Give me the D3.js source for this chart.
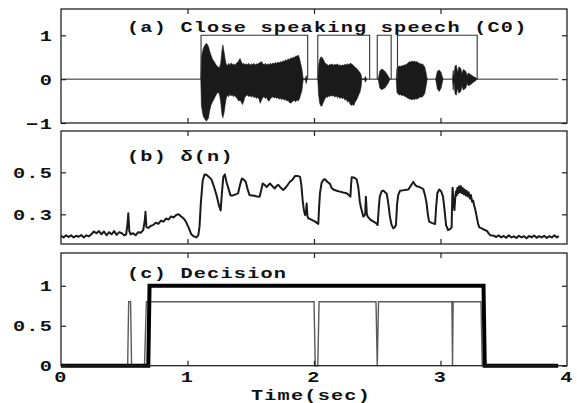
<!DOCTYPE html>
<html>
<head>
<meta charset="utf-8">
<script src="https://cdn.jsdelivr.net/npm/d3@7"></script>
<style>
  body { margin: 0; background: #fff; }
  svg { display: block; }
  .lbl { font-family: "Liberation Mono", "DejaVu Sans Mono", monospace; font-weight: bold; font-size: 15px; letter-spacing: 0.9px; fill: #111; }
</style>
</head>
<body>
<svg id="chart" width="577" height="403"></svg>
<script>
// x axis (seconds)
var xTicks = [0, 1, 2, 3, 4];

// panel (a): speech waveform envelope, rows are [time, upper, lower]
var wave1 = [[1.105,0,0],[1.110,0.50,-0.60],[1.118,0.62,-0.75],[1.125,0.70,-0.85],[1.135,0.76,-0.90],[1.150,0.82,-0.96],[1.158,0.78,-0.92],[1.165,0.75,-0.90],[1.175,0.64,-0.72],[1.185,0.55,-0.60],[1.197,0.46,-0.52],[1.210,0.40,-0.45],[1.225,0.33,-0.36],[1.240,0.28,-0.30],[1.252,0.26,-0.34],[1.262,0.35,-0.50],[1.272,0.65,-0.80],[1.280,0.78,-0.88],[1.290,0.60,-0.75],[1.298,0.45,-0.58],
  [1.305,0.35,-0.45],[1.315,0.30,-0.36],[1.325,0.36,-0.40],[1.335,0.32,-0.35],[1.345,0.37,-0.38],[1.355,0.33,-0.36],[1.365,0.35,-0.40],[1.375,0.31,-0.37],[1.385,0.36,-0.42],[1.395,0.38,-0.45],
  [1.405,0.42,-0.50],[1.415,0.47,-0.48],[1.425,0.40,-0.52],[1.435,0.34,-0.58],[1.445,0.36,-0.50],[1.455,0.32,-0.40],[1.465,0.35,-0.38],[1.475,0.33,-0.36],[1.485,0.36,-0.40],[1.495,0.31,-0.37],
  [1.505,0.35,-0.41],[1.515,0.33,-0.38],[1.525,0.36,-0.42],[1.535,0.32,-0.40],[1.545,0.35,-0.44],[1.555,0.34,-0.41],[1.565,0.37,-0.45],[1.575,0.38,-0.55],[1.585,0.40,-0.48],[1.595,0.35,-0.42],
  [1.605,0.33,-0.40],[1.615,0.36,-0.44],[1.625,0.32,-0.42],[1.635,0.35,-0.48],[1.645,0.33,-0.50],[1.655,0.36,-0.45],[1.665,0.34,-0.42],[1.675,0.37,-0.40],[1.685,0.35,-0.43],[1.695,0.38,-0.41],
  [1.705,0.36,-0.44],[1.715,0.39,-0.42],[1.725,0.37,-0.46],[1.735,0.40,-0.43],[1.745,0.38,-0.47],[1.755,0.42,-0.44],[1.765,0.40,-0.48],[1.775,0.44,-0.46],[1.785,0.42,-0.50],[1.795,0.46,-0.48],
  [1.805,0.45,-0.53],[1.815,0.48,-0.55],[1.825,0.47,-0.52],[1.835,0.50,-0.50],[1.845,0.49,-0.48],[1.855,0.53,-0.52],[1.865,0.52,-0.47],[1.875,0.55,-0.50],[1.885,0.48,-0.45],[1.895,0.35,-0.35],
  [1.905,0.22,-0.25],[1.915,0,0],[1.930,0,0],[1.938,0.08,-0.10],[1.946,0,0]];
var wave2 = [[2.030,0,0],[2.036,0.30,-0.35],[2.045,0.45,-0.55],[2.055,0.51,-0.62],[2.065,0.49,-0.60],[2.075,0.44,-0.52],[2.085,0.38,-0.46],[2.095,0.35,-0.40],[2.105,0.33,-0.42],[2.115,0.31,-0.38],[2.125,0.34,-0.40],[2.135,0.32,-0.36],[2.145,0.35,-0.39],[2.155,0.31,-0.37],[2.165,0.34,-0.41],[2.175,0.32,-0.38],[2.185,0.35,-0.42],[2.195,0.31,-0.40],[2.205,0.33,-0.44],[2.215,0.30,-0.41],[2.225,0.33,-0.45],[2.235,0.31,-0.42],[2.245,0.34,-0.48],[2.255,0.32,-0.46],[2.265,0.35,-0.52],[2.275,0.33,-0.50],[2.285,0.36,-0.56],[2.295,0.35,-0.60],[2.305,0.33,-0.58],[2.315,0.30,-0.60],[2.325,0.27,-0.52],[2.335,0.25,-0.48],[2.345,0.22,-0.42],[2.355,0.18,-0.35],[2.365,0.14,-0.28],[2.372,0.10,-0.18],[2.378,0,0],[2.400,0,0],[2.405,0.06,-0.07],[2.410,0.04,-0.05],[2.416,0,0]];
var wave3 = [[2.508,0,0],[2.520,0.18,-0.20],[2.535,0.23,-0.24],[2.548,0.21,-0.22],[2.560,0.18,-0.20],[2.585,0.08,-0.10],[2.600,0,0]];
var wave4 = [[2.650,0,0],[2.656,0.25,-0.30],[2.665,0.28,-0.34],[2.675,0.30,-0.36],[2.685,0.29,-0.35],[2.695,0.31,-0.38],[2.705,0.30,-0.36],[2.715,0.33,-0.39],[2.725,0.32,-0.40],[2.735,0.35,-0.42],[2.745,0.37,-0.44],[2.755,0.40,-0.45],[2.765,0.39,-0.46],[2.775,0.41,-0.47],[2.785,0.40,-0.45],[2.795,0.41,-0.47],[2.805,0.39,-0.44],[2.815,0.40,-0.46],[2.825,0.37,-0.43],[2.835,0.36,-0.42],[2.845,0.34,-0.40],[2.855,0.35,-0.41],[2.865,0.32,-0.37],[2.875,0.28,-0.33],[2.885,0.16,-0.18],[2.895,0,0]];
var wave5 = [[2.962,0,0],[2.975,0.18,-0.22],[2.990,0.21,-0.28],[3.005,0.15,-0.20],[3.020,0,0]];
var wave6 = [[3.095,0,0],[3.100,0.20,-0.25],[3.106,0.05,-0.05],[3.115,0.30,-0.34],[3.125,0.32,-0.36],[3.135,0.15,-0.20],[3.145,0.28,-0.32],[3.160,0.25,-0.28],[3.170,0.12,-0.15],[3.180,0.22,-0.25],[3.200,0.18,-0.20],[3.210,0.08,-0.10],[3.220,0.14,-0.15],[3.240,0.10,-0.12],[3.260,0.06,-0.07],[3.280,0.03,-0.03],[3.290,0,0]];
var zeroT = [0, 3.93];
var segStart = [1.107, 2.030, 2.500, 2.660];
var segEnd   = [1.950, 2.440, 2.610, 3.290];
var segLevel = 1;

// panel (b): delta(n)
var deltaT = [0.00, 0.02, 0.04, 0.06, 0.08, 0.10, 0.12, 0.14, 0.16, 0.18, 0.20, 0.22, 0.24, 0.26, 0.28, 0.30, 0.32, 0.34, 0.36, 0.38, 0.40, 0.42, 0.44, 0.46, 0.48, 0.50, 0.515, 0.525, 0.532, 0.54, 0.55, 0.57, 0.59, 0.61, 0.63, 0.65, 0.662, 0.668, 0.675, 0.69, 0.71, 0.73, 0.75, 0.77, 0.79, 0.81, 0.83, 0.85, 0.87, 0.89, 0.91, 0.93, 0.95, 0.97, 0.99, 1.01, 1.03, 1.05, 1.07, 1.085, 1.095, 1.105, 1.12, 1.135, 1.15, 1.17, 1.19, 1.21, 1.23, 1.25, 1.262, 1.272, 1.283, 1.295, 1.31, 1.325, 1.34, 1.36, 1.38, 1.40, 1.415, 1.43, 1.445, 1.46, 1.475, 1.49, 1.51, 1.53, 1.55, 1.57, 1.585, 1.594, 1.61, 1.626, 1.64, 1.652, 1.67, 1.69, 1.705, 1.718, 1.74, 1.757, 1.78, 1.81, 1.83, 1.85, 1.87, 1.89, 1.90, 1.91, 1.92, 1.929, 1.936, 1.942, 1.948, 1.955, 1.975, 1.994, 2.01, 2.025, 2.034, 2.04, 2.047, 2.06, 2.075, 2.087, 2.105, 2.126, 2.14, 2.153, 2.18, 2.205, 2.23, 2.258, 2.275, 2.288, 2.293, 2.298, 2.317, 2.337, 2.35, 2.362, 2.372, 2.39, 2.405, 2.41, 2.418, 2.425, 2.445, 2.47, 2.49, 2.503, 2.512, 2.52, 2.535, 2.548, 2.562, 2.575, 2.588, 2.60, 2.613, 2.627, 2.64, 2.648, 2.657, 2.666, 2.68, 2.70, 2.72, 2.746, 2.77, 2.785, 2.80, 2.812, 2.835, 2.864, 2.878, 2.89, 2.90, 2.91, 2.935, 2.957, 2.965, 2.975, 2.99, 3.005, 3.02, 3.032, 3.044, 3.06, 3.075, 3.088, 3.093, 3.096, 3.103, 3.11, 3.118, 3.123, 3.128, 3.133, 3.14, 3.146, 3.154, 3.16, 3.17, 3.176, 3.185, 3.19, 3.20, 3.206, 3.215, 3.222, 3.233, 3.24, 3.25, 3.258, 3.265, 3.276, 3.286, 3.297, 3.307, 3.33, 3.35, 3.365, 3.38, 3.395, 3.42, 3.44, 3.46, 3.48, 3.50, 3.52, 3.54, 3.56, 3.58, 3.60, 3.62, 3.64, 3.66, 3.68, 3.70, 3.72, 3.74, 3.76, 3.78, 3.80, 3.82, 3.84, 3.86, 3.88, 3.90, 3.92, 3.935];
var deltaV = [0.198, 0.190, 0.200, 0.192, 0.200, 0.190, 0.198, 0.193, 0.201, 0.190, 0.200, 0.195, 0.205, 0.218, 0.210, 0.220, 0.205, 0.218, 0.200, 0.215, 0.205, 0.220, 0.202, 0.215, 0.210, 0.200, 0.205, 0.250, 0.305, 0.220, 0.205, 0.210, 0.200, 0.215, 0.212, 0.225, 0.270, 0.312, 0.240, 0.235, 0.245, 0.250, 0.260, 0.255, 0.270, 0.265, 0.280, 0.275, 0.290, 0.285, 0.297, 0.300, 0.290, 0.280, 0.262, 0.235, 0.205, 0.195, 0.190, 0.200, 0.240, 0.350, 0.460, 0.490, 0.488, 0.478, 0.465, 0.430, 0.390, 0.340, 0.318, 0.400, 0.478, 0.490, 0.450, 0.420, 0.390, 0.390, 0.395, 0.400, 0.440, 0.470, 0.465, 0.455, 0.420, 0.392, 0.390, 0.388, 0.385, 0.384, 0.420, 0.447, 0.440, 0.430, 0.440, 0.447, 0.435, 0.423, 0.435, 0.440, 0.425, 0.416, 0.430, 0.455, 0.465, 0.482, 0.483, 0.478, 0.440, 0.368, 0.320, 0.297, 0.300, 0.352, 0.290, 0.281, 0.276, 0.270, 0.265, 0.258, 0.254, 0.330, 0.400, 0.450, 0.465, 0.467, 0.455, 0.445, 0.425, 0.418, 0.412, 0.408, 0.404, 0.400, 0.392, 0.384, 0.440, 0.476, 0.475, 0.467, 0.430, 0.360, 0.330, 0.289, 0.300, 0.384, 0.300, 0.289, 0.275, 0.265, 0.258, 0.249, 0.330, 0.384, 0.410, 0.413, 0.405, 0.398, 0.350, 0.289, 0.250, 0.233, 0.240, 0.250, 0.350, 0.392, 0.412, 0.414, 0.416, 0.418, 0.440, 0.455, 0.440, 0.434, 0.430, 0.420, 0.390, 0.352, 0.300, 0.265, 0.258, 0.254, 0.330, 0.400, 0.418, 0.410, 0.384, 0.320, 0.249, 0.225, 0.230, 0.238, 0.380, 0.427, 0.350, 0.320, 0.390, 0.410, 0.390, 0.425, 0.400, 0.432, 0.405, 0.435, 0.400, 0.425, 0.395, 0.418, 0.390, 0.412, 0.385, 0.405, 0.375, 0.392, 0.360, 0.365, 0.344, 0.320, 0.289, 0.255, 0.238, 0.232, 0.225, 0.222, 0.210, 0.200, 0.198, 0.192, 0.200, 0.190, 0.197, 0.188, 0.200, 0.190, 0.195, 0.187, 0.198, 0.190, 0.196, 0.186, 0.197, 0.190, 0.199, 0.188, 0.196, 0.190, 0.198, 0.187, 0.196, 0.190, 0.200, 0.190, 0.197];

// panel (c): decisions
var thinT  = [0, 0.527, 0.535, 0.550, 0.558, 0.660, 0.675, 2.000, 2.010, 2.030, 2.040, 2.490, 2.500, 2.510, 3.090, 3.095, 3.100, 3.320, 3.330, 3.930];
var thinV  = [0, 0, 0.8, 0.8, 0, 0, 0.8, 0.8, 0, 0, 0.8, 0.8, 0, 0.8, 0.8, 0, 0.8, 0.8, 0, 0];
var thickT = [0, 0.690, 0.700, 3.340, 3.350, 3.930];
var thickV = [0, 0, 1, 1, 0, 0];

var yTicksA = [-1, 0, 1], yTicksB = [0.3, 0.5], yTicksC = [0, 0.5, 1];

var svg = d3.select("#chart");

var x = d3.scaleLinear().domain([0, 4]).range([61, 567]);
var yA = d3.scaleLinear().domain([-1, 1.6]).range([123, 9]);
var yB = d3.scaleLinear().domain([0.1586, 0.6967]).range([244, 131]);
var yC = d3.scaleLinear().domain([0, 1.41]).range([365.7, 253]);

// scaled monospace text (the original font is stretched wide)
function label(x0, y0, str, anchor) {
  svg.append("g")
     .attr("transform", "translate(" + x0 + "," + y0 + ") scale(1.35,1)")
     .append("text")
      .attr("class", "lbl")
      .attr("text-anchor", anchor)
      .attr("dominant-baseline", "central")
      .text(str);
}

function frame(y, ticks) {
  var r = y.range();
  var g = svg.append("g");
  g.append("g").attr("transform", "translate(0," + r[0] + ")")
    .call(d3.axisBottom(x).tickValues([1, 2, 3]).tickSize(-5).tickFormat(""));
  g.append("g").attr("transform", "translate(0," + r[1] + ")")
    .call(d3.axisTop(x).tickValues([1, 2, 3]).tickSize(-5).tickFormat(""));
  g.append("g").attr("transform", "translate(" + x(0) + ",0)")
    .call(d3.axisLeft(y).tickValues(ticks).tickSize(-5).tickFormat(""));
  g.append("g").attr("transform", "translate(" + x(4) + ",0)")
    .call(d3.axisRight(y).tickValues(ticks).tickSize(-5).tickFormat(""));
  g.selectAll(".domain").remove();
  g.selectAll(".tick line").attr("stroke", "#222").attr("stroke-width", 1.2);
  g.append("rect")
    .attr("x", x(0)).attr("y", r[1])
    .attr("width", x(4) - x(0)).attr("height", r[0] - r[1])
    .attr("fill", "none").attr("stroke", "#222").attr("stroke-width", 1.3);
}

// ---- panel (a)
svg.append("path")
  .attr("d", d3.line().x(function(d) { return x(d); }).y(yA(0))(zeroT))
  .attr("stroke", "#222").attr("stroke-width", 1).attr("fill", "none");

var area = d3.area().x(function(d) { return x(d[0]); })
    .y0(function(d) { return yA(d[2]); })
    .y1(function(d) { return yA(d[1]); });
[wave1, wave2, wave3, wave4, wave5, wave6].forEach(function(w) {
  svg.append("path")
    .attr("d", area(w))
    .attr("fill", "#1a1a1a").attr("stroke", "#1a1a1a").attr("stroke-width", 0.6);
});

segStart.forEach(function(s, i) {
  var pts = [[s, 0], [s, segLevel], [segEnd[i], segLevel], [segEnd[i], 0]];
  svg.append("path")
    .attr("d", d3.line().x(function(d) { return x(d[0]); }).y(function(d) { return yA(d[1]); })(pts))
    .attr("fill", "none").attr("stroke", "#333").attr("stroke-width", 1.1);
});
frame(yA, yTicksA);

// ---- panel (b)
svg.append("path")
  .datum(deltaT.map(function(t, i) { return [t, deltaV[i]]; }))
  .attr("d", d3.line().x(function(d) { return x(d[0]); }).y(function(d) { return yB(d[1]); }))
  .attr("fill", "none").attr("stroke", "#1a1a1a").attr("stroke-width", 2)
  .attr("stroke-linejoin", "round");
frame(yB, yTicksB);

// ---- panel (c)
svg.append("path")
  .datum(thinT.map(function(t, i) { return [t, thinV[i]]; }))
  .attr("d", d3.line().x(function(d) { return x(d[0]); }).y(function(d) { return yC(d[1]); }))
  .attr("fill", "none").attr("stroke", "#5a5a5a").attr("stroke-width", 1.4);
svg.append("path")
  .datum(thickT.map(function(t, i) { return [t, thickV[i]]; }))
  .attr("d", d3.line().x(function(d) { return x(d[0]); }).y(function(d) { return yC(d[1]); }))
  .attr("fill", "none").attr("stroke", "#000").attr("stroke-width", 4);
frame(yC, yTicksC);

// ---- labels
yTicksA.forEach(function(v) { label(53, yA(v) + 1.5, d3.format("")(v).replace("-", "\u2212"), "end"); });
yTicksB.forEach(function(v) { label(53, yB(v) + 1, d3.format(".1f")(v), "end"); });
yTicksC.forEach(function(v) { label(53, yC(v) + 1, String(v), "end"); });
xTicks.forEach(function(v) { label(x(v), 378, String(v), "middle"); });
label(311, 395.5, "Time(sec)", "middle");

label(127, 27.5, "(a) Close speaking speech (C0)", "start");
label(127, 157, "(b) \u03b4(n)", "start");
label(127, 273.5, "(c) Decision", "start");
</script>
</body>
</html>
